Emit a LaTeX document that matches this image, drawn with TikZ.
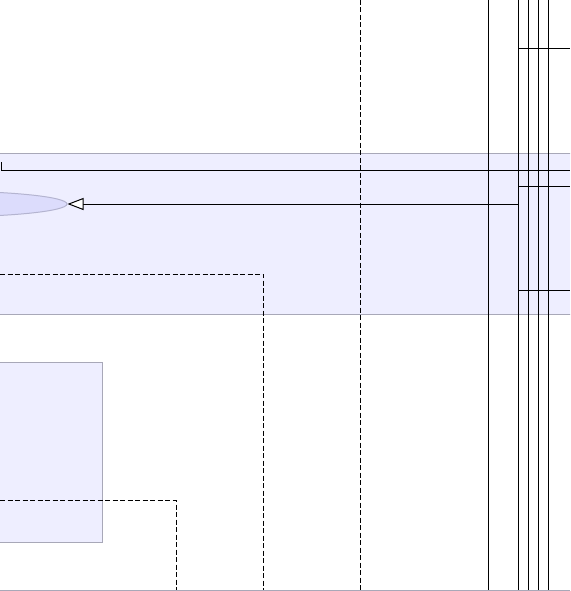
\documentclass[tikz,border=0pt]{standalone}
\usetikzlibrary{arrows.meta}
\usetikzlibrary{shapes.geometric}
\definecolor{bandfill}{HTML}{EEEEFF}
\definecolor{bandline}{HTML}{A8A8B8}
\definecolor{ellfill}{HTML}{DCDCFC}
\definecolor{ellline}{HTML}{B4B4D0}
\tikzset{
  conn/.style={draw=black,line width=1pt},
  dconn/.style={draw=black,line width=1pt,dash pattern=on 5pt off 2.5pt},
  frame/.style={fill=bandfill,draw=bandline,line width=1pt},
  usecase/.style={ellipse,fill=ellfill,draw=ellline,line width=1pt},
  realize/.style={-{Triangle[open,length=16pt,width=12pt,fill=white]}}
}
\begin{document}
\begin{tikzpicture}[x=1pt,y=-1pt]
\useasboundingbox (0,0) rectangle (570,591);
\clip (0,0) rectangle (570,591);
% band (system boundary)
\node[frame,minimum width=600pt,minimum height=161pt,anchor=north west,inner sep=0pt] (band) at (-15,153) {};
% box
\node[frame,minimum width=132pt,minimum height=180pt,anchor=north east,inner sep=0pt] (box) at (102.5,362) {};
% use case ellipse
\node[usecase,minimum width=254pt,minimum height=26pt,inner sep=0pt] (uc) at (-60,204) {};
% coordinates
\coordinate (s1) at (1,162);
\coordinate (s2) at (1,170);
\coordinate (s3) at (570,170);
\coordinate (v1t) at (488.3,0); \coordinate (v1b) at (488.3,591);
\coordinate (v2t) at (518.7,0); \coordinate (v2b) at (518.7,591);
\coordinate (v3t) at (528.7,0); \coordinate (v3b) at (528.7,591);
\coordinate (v4t) at (538.7,0); \coordinate (v4b) at (538.7,591);
\coordinate (v5t) at (548.7,0); \coordinate (v5b) at (548.7,591);
\coordinate (h1a) at (518.7,48.3); \coordinate (h1b) at (570,48.3);
\coordinate (h2a) at (518.7,186.3); \coordinate (h2b) at (570,186.3);
\coordinate (h3a) at (518.7,290.3); \coordinate (h3b) at (570,290.3);
\coordinate (d1a) at (0,274); \coordinate (d1b) at (263.3,274); \coordinate (d1c) at (263.3,591);
\coordinate (d2a) at (360.3,0); \coordinate (d2b) at (360.3,591);
\coordinate (d3a) at (0,500.5); \coordinate (d3b) at (176,500.5); \coordinate (d3c) at (176,591);
\coordinate (bl) at (0,590.3); \coordinate (br) at (570,590.3);
% connectors
\draw[conn] (s1) -- (s2) -- (s3);
\draw[conn,realize] (v2t |- uc.east) -- (uc.east);
\foreach \v in {v1,v2,v3,v4,v5} \draw[conn] (\v t) -- (\v b);
\draw[conn] (h1a) -- (h1b);
\draw[conn] (h2a) -- (h2b);
\draw[conn] (h3a) -- (h3b);
\draw[dconn] (d1a) -- (d1b) -- (d1c);
\draw[dconn] (d2a) -- (d2b);
\draw[dconn] (d3a) -- (d3b) -- (d3c);
\draw[draw=bandline,line width=1pt] (bl) -- (br);
\end{tikzpicture}
\end{document}
